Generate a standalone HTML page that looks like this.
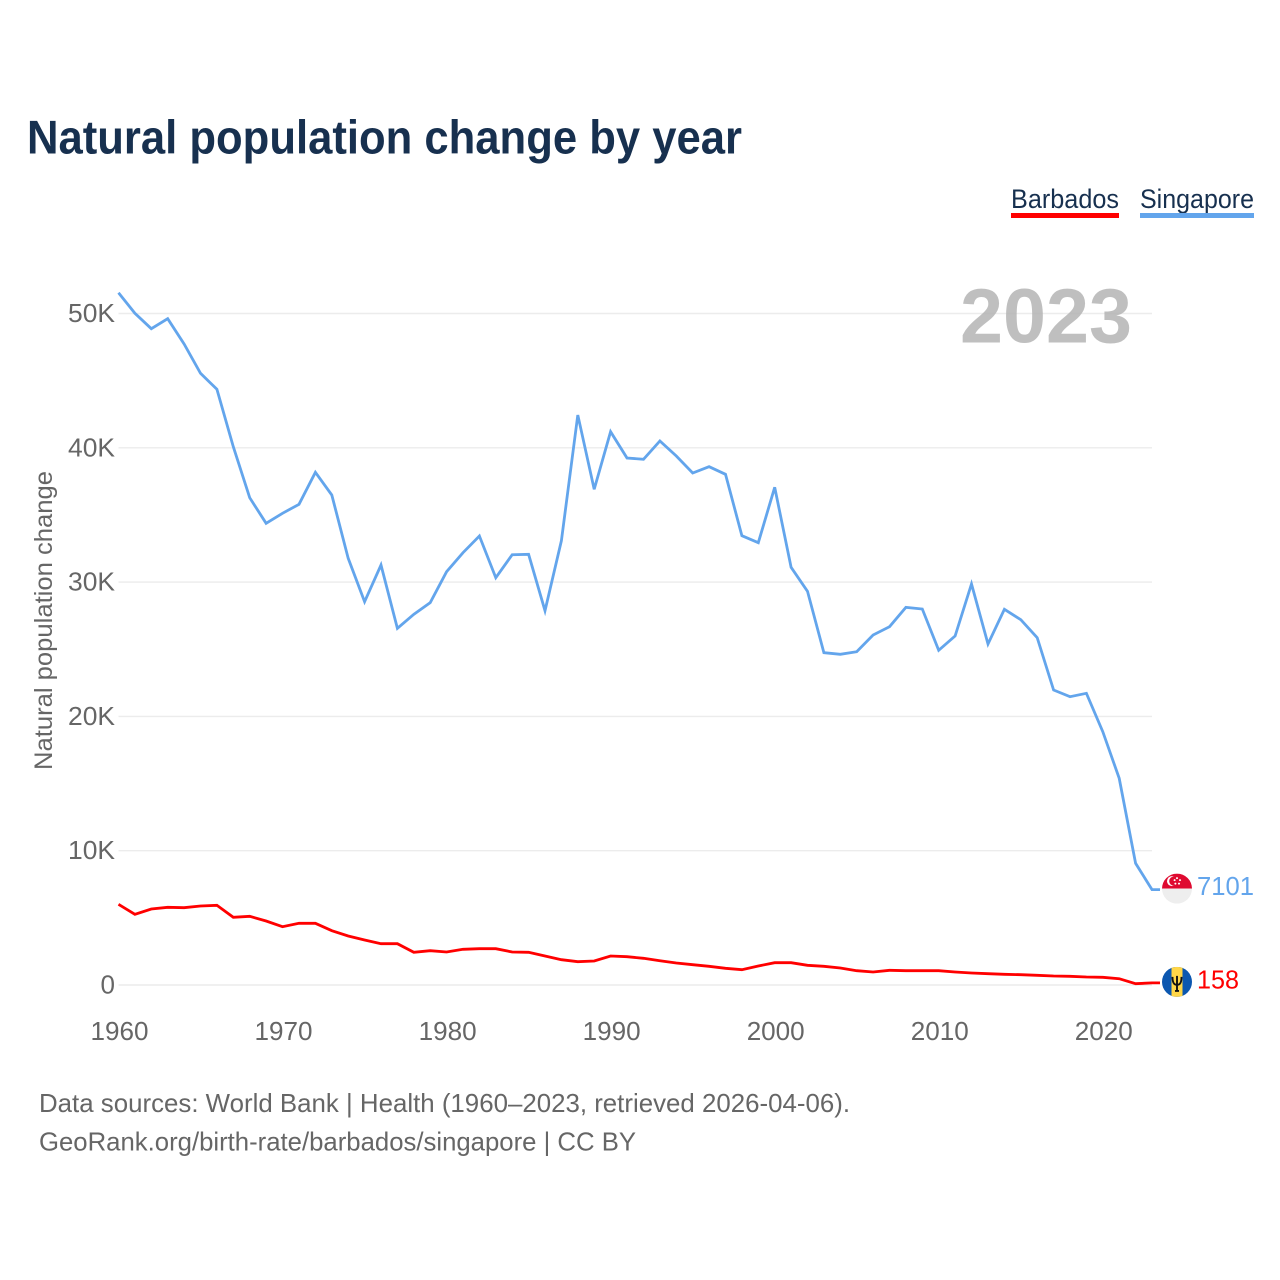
<!DOCTYPE html>
<html lang="en">
<head>
<meta charset="utf-8">
<title>Natural population change by year</title>
<style>
html,body{margin:0;padding:0;background:#fff;}
svg{display:block;font-family:"Liberation Sans",sans-serif;}
</style>
</head>
<body>
<svg id="chart" width="1280" height="1280" viewBox="0 0 1280 1280" xmlns="http://www.w3.org/2000/svg">
  <rect x="0" y="0" width="1280" height="1280" fill="#ffffff"/>
  <text x="27" y="153.5" font-size="47" font-weight="700" fill="#17304f" textLength="715" lengthAdjust="spacingAndGlyphs">Natural population change by year</text>

  <g>
    <g>
      <text x="1011" y="208" font-size="27" fill="#17304f" textLength="108" lengthAdjust="spacingAndGlyphs">Barbados</text>
      <rect x="1011" y="213" width="108" height="5" fill="#ff0000"/>
    </g>
    <g>
      <text x="1140" y="208" font-size="27" fill="#17304f" textLength="114" lengthAdjust="spacingAndGlyphs">Singapore</text>
      <rect x="1140" y="213" width="114" height="5" fill="#63a5ec"/>
    </g>
  </g>

  <text transform="translate(52,770) rotate(-90)" font-size="25" fill="#666666" textLength="299" lengthAdjust="spacingAndGlyphs">Natural population change</text>

  <g id="grid"></g>
  <g id="ylabels"></g>
  <g id="xlabels"></g>

  <text id="year" x="960" y="342.5" font-size="77" font-weight="700" fill="#b4b4b4" fill-opacity="0.85" textLength="172" lengthAdjust="spacingAndGlyphs">2023</text>

  <path id="line-singapore" fill="none" stroke="#63a5ec" stroke-width="2.8" stroke-linejoin="miter"/>
  <path id="line-barbados" fill="none" stroke="#ff0000" stroke-width="2.8" stroke-linejoin="miter"/>

  <defs>
    <clipPath id="clip-sg"><circle cx="0" cy="0" r="15"/></clipPath>
    <clipPath id="clip-bb"><circle cx="0" cy="0" r="15"/></clipPath>
  </defs>

  <g id="flag-singapore">
    <g clip-path="url(#clip-sg)">
      <rect x="-15" y="-15" width="30" height="15" fill="#df0a30"/>
      <rect x="-15" y="0" width="30" height="15" fill="#eeeeee"/>
      <circle cx="-5" cy="-7.5" r="5" fill="#ffffff"/>
      <circle cx="-3.2" cy="-7.5" r="4.6" fill="#df0a30"/>
      <circle cx="0" cy="-10.5" r="1" fill="#ffffff"/>
      <circle cx="3" cy="-8.5" r="1" fill="#ffffff"/>
      <circle cx="2" cy="-5" r="1" fill="#ffffff"/>
      <circle cx="-1.6" cy="-5" r="1" fill="#ffffff"/>
      <circle cx="-2.4" cy="-8.5" r="1" fill="#ffffff"/>
    </g>
  </g>
  <g id="flag-barbados">
    <g clip-path="url(#clip-bb)">
      <rect x="-15" y="-15" width="30" height="30" fill="#0b57b0"/>
      <rect x="-5.5" y="-15" width="11" height="30" fill="#ffd648"/>
      <path d="M0 -6V9M-4.5 -5C-4.5 1 -3 3 0 3C3 3 4.5 1 4.5 -5M-2 9H2" fill="none" stroke="#111111" stroke-width="1.9"/>
    </g>
  </g>

  <text id="value-singapore" x="1197" y="895" font-size="26" fill="#63a5ec" textLength="57" lengthAdjust="spacingAndGlyphs">7101</text>
  <text id="value-barbados" x="1197" y="988" font-size="26" fill="#ff0000" textLength="42" lengthAdjust="spacingAndGlyphs">158</text>

  <text x="39" y="1112" font-size="26" fill="#666666" textLength="811" lengthAdjust="spacingAndGlyphs">Data sources: World Bank | Health (1960–2023, retrieved 2026-04-06).</text>
  <text x="39" y="1150.5" font-size="26" fill="#666666" textLength="597" lengthAdjust="spacingAndGlyphs">GeoRank.org/birth-rate/barbados/singapore | CC BY</text>
</svg>

<script>
const startYear = 1960;
const singaporeValues = [51550,50015,48870,49613,47729,45547,44356,40082,36284,34378,35123,35793,38176,36485,31772,28541,31273,26560,27602,28466,30774,32189,33433,30328,32040,32070,27870,33083,42442,36910,41199,39240,39144,40506,39389,38124,38593,38027,33455,32934,37059,31102,29315,24743,24624,24818,26061,26679,28123,27997,24922,25987,29858,25391,27975,27200,25860,21966,21467,21720,18861,15391,9062,7101];
const barbadosValues = [6009,5264,5659,5786,5756,5882,5935,5041,5115,4765,4341,4594,4594,4043,3649,3351,3075,3075,2435,2554,2457,2658,2703,2703,2457,2435,2159,1884,1735,1787,2159,2107,1988,1809,1638,1512,1392,1243,1139,1415,1660,1660,1467,1392,1266,1065,968,1095,1065,1065,1065,968,894,841,797,767,722,670,648,596,573,469,97,158];
const yTicks = [0,10000,20000,30000,40000,50000];
const yTickLabels = ['0','10K','20K','30K','40K','50K'];
const xTicks = [1960,1970,1980,1990,2000,2010,2020];

const NS = 'http://www.w3.org/2000/svg';
function xScale(year){ return 118.5 + (year - 1960) * (1152 - 118.5) / 63; }
function yScale(v){ return 985 - v * (985 - 313.5) / 50000; }

const grid = document.getElementById('grid');
const ylabels = document.getElementById('ylabels');
const xlabels = document.getElementById('xlabels');

yTicks.forEach(function(t, i){
  const ln = document.createElementNS(NS, 'line');
  
  
  ln.setAttribute('x1', 118.5);
  ln.setAttribute('x2', 1152);
  ln.setAttribute('y1', yScale(t));
  ln.setAttribute('y2', yScale(t));
  ln.setAttribute('stroke', '#ececec');
  ln.setAttribute('stroke-width', '1.4');
  grid.appendChild(ln);

  const tx = document.createElementNS(NS, 'text');
  
  
  tx.setAttribute('x', 115);
  tx.setAttribute('y', yScale(t) + 8.5);
  tx.setAttribute('text-anchor', 'end');
  tx.setAttribute('font-size', '26');
  tx.setAttribute('fill', '#666666');
  if (yTickLabels[i].length > 1) {
    tx.setAttribute('textLength', '47');
    tx.setAttribute('lengthAdjust', 'spacingAndGlyphs');
  }
  tx.textContent = yTickLabels[i];
  ylabels.appendChild(tx);
});

xTicks.forEach(function(t){
  const tx = document.createElementNS(NS, 'text');
  
  
  tx.setAttribute('x', xScale(t) + 1);
  tx.setAttribute('y', 1040);
  tx.setAttribute('text-anchor', 'middle');
  tx.setAttribute('font-size', '26');
  tx.setAttribute('fill', '#666666');
  tx.setAttribute('textLength', '58');
  tx.setAttribute('lengthAdjust', 'spacingAndGlyphs');
  tx.textContent = String(t);
  xlabels.appendChild(tx);
});

function buildPath(values){
  let d = '';
  values.forEach(function(v, i){
    d += (i ? 'L' : 'M') + xScale(startYear + i).toFixed(1) + ' ' + yScale(v).toFixed(1);
  });
  const last = values[values.length - 1];
  d += 'L' + (xScale(startYear + values.length - 1) + 8).toFixed(1) + ' ' + yScale(last).toFixed(1);
  return d;
}

document.getElementById('line-singapore').setAttribute('d', buildPath(singaporeValues));
document.getElementById('line-barbados').setAttribute('d', buildPath(barbadosValues));

const sgLast = singaporeValues[singaporeValues.length - 1];
const bbLast = barbadosValues[barbadosValues.length - 1];
document.getElementById('flag-singapore').setAttribute('transform', 'translate(1177,' + (yScale(sgLast) - 1).toFixed(1) + ')');
document.getElementById('flag-barbados').setAttribute('transform', 'translate(1177,' + (yScale(bbLast) - 1).toFixed(1) + ')');
document.getElementById('value-singapore').setAttribute('y', (yScale(sgLast) + 5.5).toFixed(1));
document.getElementById('value-barbados').setAttribute('y', (yScale(bbLast) + 5.5).toFixed(1));
document.getElementById('value-singapore').textContent = String(sgLast);
document.getElementById('value-barbados').textContent = String(bbLast);
</script>
</body>
</html>
